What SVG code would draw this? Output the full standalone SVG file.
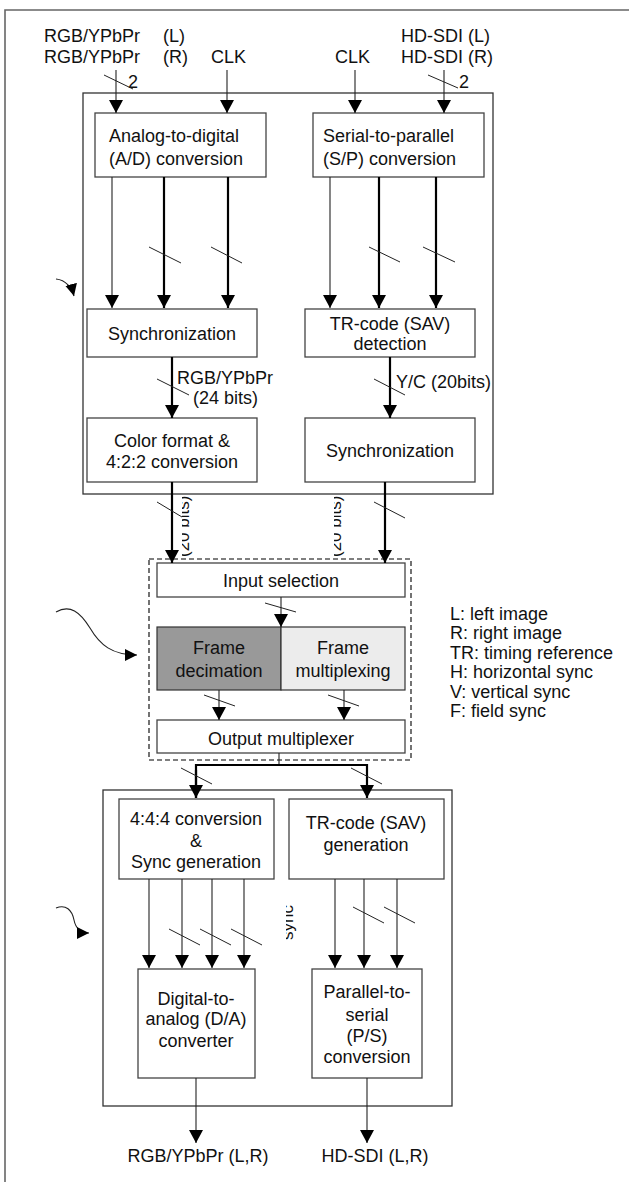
<svg xmlns="http://www.w3.org/2000/svg" width="629" height="1182" viewBox="0 0 629 1182">
  <style>
    text { font-family: "Liberation Sans", Arial, sans-serif; font-size: 18px; fill: #111; }
    .c { text-anchor: middle; }
    .box { fill: #fff; stroke: #444; stroke-width: 1.3; }
    .blk { fill: none; stroke: #333; stroke-width: 1.3; }
    .thin { fill: none; stroke: #222; stroke-width: 1.1; }
    .thick { fill: none; stroke: #000; stroke-width: 2.2; }
    .sl { fill: none; stroke: #222; stroke-width: 1; }
    .ghost { font-family: "Liberation Sans", Arial, sans-serif; font-size: 17px; }
  </style>
  <defs>
    <marker id="ah" viewBox="0 0 13 14" markerWidth="13" markerHeight="14" refX="13" refY="7" orient="auto" markerUnits="userSpaceOnUse">
      <path d="M0,0 L13,7 L0,14 z" fill="#000"/>
    </marker>
    <marker id="ahs" viewBox="0 0 12 12" markerWidth="12" markerHeight="12" refX="12" refY="6" orient="auto" markerUnits="userSpaceOnUse">
      <path d="M0,0 L12,6 L0,12 z" fill="#000"/>
    </marker>
    <clipPath id="clipA"><rect x="182" y="484" width="20" height="80"/></clipPath>
    <clipPath id="clipB"><rect x="334" y="484" width="20" height="80"/></clipPath>
    <clipPath id="clipC"><rect x="286" y="895" width="20" height="50"/></clipPath>
  </defs>

  <!-- page frame -->
  <path d="M5,1182 V10 H629" fill="none" stroke="#666" stroke-width="1.6"/>

  <!-- input labels -->
  <g id="inputs">
    <text x="44" y="42">RGB/YPbPr</text><text x="163" y="42">(L)</text>
    <text x="44" y="63">RGB/YPbPr</text><text x="163" y="63">(R)</text>
    <text x="211" y="63">CLK</text>
    <text x="335" y="63">CLK</text>
    <text x="401" y="42">HD-SDI (L)</text>
    <text x="401" y="63">HD-SDI (R)</text>
    <text x="128" y="88">2</text>
    <text x="459" y="88">2</text>
  </g>

  <!-- block outlines -->
  <g id="capture-block"><rect class="blk" x="83" y="93" width="410" height="401"/></g>
  <g id="stereo-block"><rect x="149" y="559" width="262" height="201" fill="none" stroke="#000" stroke-width="1.1" stroke-dasharray="5,3"/></g>
  <g id="output-block"><rect class="blk" x="103" y="790" width="349" height="316"/></g>

  <!-- capture stage nodes -->
  <g id="ad-conv">
    <rect class="box" x="95" y="113" width="171" height="64"/>
    <text x="109" y="142">Analog-to-digital</text>
    <text x="109" y="165">(A/D) conversion</text>
  </g>
  <g id="sp-conv">
    <rect class="box" x="313" y="113" width="171" height="64"/>
    <text x="323" y="142">Serial-to-parallel</text>
    <text x="323" y="165">(S/P) conversion</text>
  </g>
  <g id="sync-a">
    <rect class="box" x="87" y="309" width="170" height="48"/>
    <text class="c" x="172" y="340">Synchronization</text>
  </g>
  <g id="tr-detect">
    <rect class="box" x="305" y="309" width="170" height="48"/>
    <text class="c" x="390" y="330">TR-code (SAV)</text>
    <text class="c" x="390" y="350">detection</text>
  </g>
  <g id="color-format">
    <rect class="box" x="87" y="418" width="170" height="64"/>
    <text class="c" x="172" y="447">Color format &amp;</text>
    <text class="c" x="172" y="468">4:2:2 conversion</text>
  </g>
  <g id="sync-d">
    <rect class="box" x="305" y="418" width="170" height="64"/>
    <text class="c" x="390" y="457">Synchronization</text>
  </g>

  <!-- stereo processing nodes -->
  <g id="input-sel">
    <rect class="box" x="157" y="563" width="248" height="34"/>
    <text class="c" x="281" y="587">Input selection</text>
  </g>
  <g id="frame-dec">
    <rect x="157" y="627" width="124" height="63" fill="#999" stroke="#333" stroke-width="1.2"/>
    <text class="c" x="219" y="654">Frame</text>
    <text class="c" x="219" y="677">decimation</text>
  </g>
  <g id="frame-mux">
    <rect x="281" y="627" width="124" height="63" fill="#ececec" stroke="#333" stroke-width="1.2"/>
    <text class="c" x="343" y="654">Frame</text>
    <text class="c" x="343" y="677">multiplexing</text>
  </g>
  <g id="output-mux">
    <rect class="box" x="157" y="720" width="248" height="33"/>
    <text class="c" x="281" y="745">Output multiplexer</text>
  </g>

  <!-- output stage nodes -->
  <g id="conv444">
    <rect class="box" x="119" y="799" width="155" height="80"/>
    <text class="c" x="196" y="825">4:4:4 conversion</text>
    <text class="c" x="196" y="847">&amp;</text>
    <text class="c" x="196" y="868">Sync generation</text>
  </g>
  <g id="tr-gen">
    <rect class="box" x="289" y="799" width="155" height="80"/>
    <text class="c" x="366" y="829">TR-code (SAV)</text>
    <text class="c" x="366" y="851">generation</text>
  </g>
  <g id="da-conv">
    <rect class="box" x="138" y="969" width="117" height="109"/>
    <text class="c" x="196" y="1005">Digital-to-</text>
    <text class="c" x="196" y="1025">analog (D/A)</text>
    <text class="c" x="196" y="1047">converter</text>
  </g>
  <g id="ps-conv">
    <rect class="box" x="312" y="969" width="110" height="109"/>
    <text class="c" x="367" y="998">Parallel-to-</text>
    <text class="c" x="367" y="1021">serial</text>
    <text class="c" x="367" y="1042">(P/S)</text>
    <text class="c" x="367" y="1063">conversion</text>
  </g>

  <!-- output labels -->
  <g id="outputs">
    <text class="c" x="198" y="1162">RGB/YPbPr (L,R)</text>
    <text class="c" x="375" y="1162">HD-SDI (L,R)</text>
  </g>

  <!-- legend -->
  <g id="legend">
    <text x="450" y="620">L: left image</text>
    <text x="450" y="639">R: right image</text>
    <text x="450" y="659">TR: timing reference</text>
    <text x="450" y="678">H: horizontal sync</text>
    <text x="450" y="698">V: vertical sync</text>
    <text x="450" y="717">F: field sync</text>
  </g>

  <!-- connectors -->
  <g id="connectors">
    <!-- inputs into capture stage -->
    <line class="thin" x1="116" y1="70" x2="116" y2="113" marker-end="url(#ah)"/>
    <line class="thin" x1="227" y1="70" x2="227" y2="113" marker-end="url(#ah)"/>
    <line class="thin" x1="355" y1="70" x2="355" y2="113" marker-end="url(#ah)"/>
    <line class="thin" x1="444" y1="70" x2="444" y2="113" marker-end="url(#ah)"/>
    <line class="sl" x1="104" y1="75" x2="133" y2="89"/>
    <line class="sl" x1="428" y1="75" x2="458" y2="88"/>

    <!-- A/D to synchronization -->
    <line class="thin" x1="112" y1="177" x2="112" y2="308" marker-end="url(#ah)"/>
    <line class="thick" x1="164" y1="177" x2="164" y2="308" marker-end="url(#ah)"/>
    <line class="thick" x1="228" y1="177" x2="228" y2="308" marker-end="url(#ah)"/>
    <line class="sl" x1="149" y1="247" x2="181" y2="263"/>
    <line class="sl" x1="211" y1="247" x2="242" y2="263"/>

    <!-- S/P to TR-code detection -->
    <line class="thin" x1="330" y1="177" x2="330" y2="308" marker-end="url(#ah)"/>
    <line class="thick" x1="379" y1="177" x2="379" y2="308" marker-end="url(#ah)"/>
    <line class="thick" x1="436" y1="177" x2="436" y2="308" marker-end="url(#ah)"/>
    <line class="sl" x1="369" y1="247" x2="400" y2="262"/>
    <line class="sl" x1="423" y1="247" x2="455" y2="262"/>

    <!-- inner capture links -->
    <line class="thick" x1="172" y1="357" x2="172" y2="418" marker-end="url(#ah)"/>
    <line class="sl" x1="157" y1="379" x2="189" y2="395"/>
    <text x="177" y="384">RGB/YPbPr</text>
    <text x="193" y="404">(24 bits)</text>
    <line class="thick" x1="390" y1="357" x2="390" y2="418" marker-end="url(#ah)"/>
    <line class="sl" x1="374" y1="379" x2="405" y2="395"/>
    <text x="396" y="388">Y/C (20bits)</text>

    <!-- capture stage to input selection -->
    <line class="thick" x1="172" y1="482" x2="172" y2="563" marker-end="url(#ah)"/>
    <line class="thick" x1="385" y1="482" x2="385" y2="563" marker-end="url(#ah)"/>
    <line class="sl" x1="157" y1="502" x2="182" y2="517"/>
    <line class="sl" x1="374" y1="502" x2="405" y2="518"/>
    <g clip-path="url(#clipA)"><text class="ghost" transform="translate(189,557) rotate(-90)">(20 bits)</text></g>
    <g clip-path="url(#clipB)"><text class="ghost" transform="translate(341,557) rotate(-90)">(20 bits)</text></g>

    <!-- stereo processing -->
    <line class="thin" x1="281" y1="597" x2="281" y2="627" marker-end="url(#ah)"/>
    <line class="sl" x1="265" y1="603" x2="296" y2="612"/>
    <line class="thin" x1="219" y1="690" x2="219" y2="720" marker-end="url(#ah)"/>
    <line class="thin" x1="344" y1="690" x2="344" y2="720" marker-end="url(#ah)"/>
    <line class="sl" x1="204" y1="695" x2="235" y2="706"/>
    <line class="sl" x1="328" y1="695" x2="359" y2="706"/>

    <!-- output multiplexer split -->
    <line class="thin" x1="279" y1="753" x2="279" y2="765"/>
    <path class="thick" d="M196,798 V765 H367 V798" marker-end="url(#ah)"/>
    <line class="thick" x1="196" y1="770" x2="196" y2="798" marker-end="url(#ah)"/>
    <line class="sl" x1="181" y1="768" x2="212" y2="784"/>
    <line class="sl" x1="351" y1="768" x2="382" y2="784"/>

    <!-- 4:4:4 to D/A -->
    <line class="thin" x1="149" y1="879" x2="149" y2="968" marker-end="url(#ah)"/>
    <line class="thin" x1="182" y1="879" x2="182" y2="968" marker-end="url(#ah)"/>
    <line class="thin" x1="212" y1="879" x2="212" y2="968" marker-end="url(#ah)"/>
    <line class="thin" x1="244" y1="879" x2="244" y2="968" marker-end="url(#ah)"/>
    <line class="sl" x1="169" y1="929" x2="200" y2="945"/>
    <line class="sl" x1="200" y1="929" x2="231" y2="945"/>
    <line class="sl" x1="231" y1="929" x2="262" y2="945"/>
    <g clip-path="url(#clipC)"><text class="ghost" transform="translate(293,940) rotate(-90)">sync</text></g>

    <!-- TR-code generation to P/S -->
    <line class="thin" x1="335" y1="879" x2="335" y2="968" marker-end="url(#ah)"/>
    <line class="thin" x1="364" y1="879" x2="364" y2="968" marker-end="url(#ah)"/>
    <line class="thin" x1="397" y1="879" x2="397" y2="968" marker-end="url(#ah)"/>
    <line class="sl" x1="353" y1="907" x2="384" y2="923"/>
    <line class="sl" x1="384" y1="907" x2="415" y2="923"/>

    <!-- final outputs -->
    <line class="thin" x1="196" y1="1078" x2="196" y2="1143" marker-end="url(#ah)"/>
    <line class="thin" x1="367" y1="1078" x2="367" y2="1143" marker-end="url(#ah)"/>

    <!-- stage pointers -->
    <path class="thin" d="M56,279 C66,280 72,288 74,296" marker-end="url(#ahs)"/>
    <path class="thin" d="M56,612 C70,604 80,612 90,628 C100,645 112,655 137,655" marker-end="url(#ahs)"/>
    <path class="thin" d="M56,908 C66,904 72,910 74,920 C76,930 82,933 89,933" marker-end="url(#ahs)"/>
  </g>
</svg>
